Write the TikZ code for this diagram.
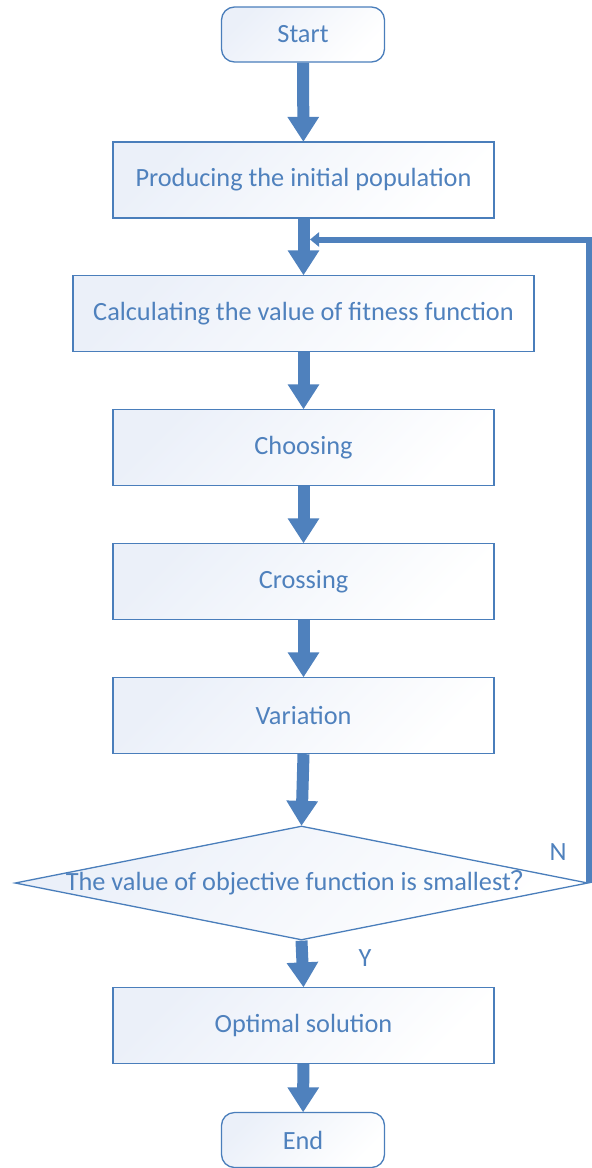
\documentclass[tikz,border=0pt]{standalone}
\usepackage{fontspec}
\setmainfont{Carlito}
\newfontfamily\cjk{Noto Sans CJK SC}
\usetikzlibrary{shapes.geometric,arrows.meta}
\definecolor{flowline}{HTML}{4A7EBB}
\definecolor{flowarrow}{HTML}{4F81BD}
\definecolor{flowtext}{HTML}{4F81BD}
\definecolor{flowfill}{HTML}{EBF0F9}
\tikzset{
  stepbox/.style={draw=flowline, line width=1.3bp, left color=flowfill, right color=white,
    shading angle=45, text=flowtext, font=\fontsize{26.3bp}{31bp}\selectfont,
    minimum height=76bp, inner sep=0pt},
  termbox/.style={stepbox, rounded corners=13bp, minimum width=163bp, minimum height=55bp},
  decision/.style={diamond, draw=flowline, line width=1.3bp, left color=flowfill, right color=white,
    shading angle=45, minimum width=573bp, minimum height=114bp, inner sep=0pt},
  flowlabel/.style={text=flowtext, font=\fontsize{26.3bp}{31bp}\selectfont, inner sep=0pt},
  blockarrow/.style={draw=flowarrow, line width=12bp,
    -{Triangle[width=30bp,length=25bp]}, shorten >=-0.5bp},
  backline/.style={draw=flowarrow, line width=6bp, -{Triangle[width=14bp,length=9bp]}}
}
\begin{document}
\begin{tikzpicture}[x=1bp,y=-1bp]
        \useasboundingbox (0,0) rectangle (592,1168);

        \node[termbox] (start) at (303,34.5) {Start};
        \node[stepbox, minimum width=381bp] (init) at (303.5,180) {Producing the initial population};
        \node[stepbox, minimum width=461bp] (fit) at (303.5,313.5) {Calculating the value of fitness function};
        \node[stepbox, minimum width=381bp] (choose) at (303.5,447.5) {Choosing};
        \node[stepbox, minimum width=381bp] (cross) at (303.5,581.5) {Crossing};
        \node[stepbox, minimum width=381bp] (vary) at (303.5,715.5) {Variation};
        \node[decision] (dia) at (301.5,883) {};
        \node[flowlabel] (diatext) at (dia) {The value of objective function is smallest{\cjk ？}};
        \node[stepbox, minimum width=381bp] (best) at (303.5,1025.5) {Optimal solution};
        \node[termbox] (end) at (303,1140) {End};

        % main flow
        \draw[blockarrow] (start) -- (init);
        \draw[blockarrow] (init) -- (fit);
        \draw[blockarrow] (fit) -- (choose);
        \draw[blockarrow] (choose) -- (cross);
        \draw[blockarrow] (cross) -- (vary);
        \draw[blockarrow] (vary.south) -- (dia.north);
        \draw[blockarrow] (dia.south) -- (best.north);
        \draw[blockarrow] (best) -- (end);

        % loop back
        \coordinate (loopin) at (310,239.5);
        \draw[backline] (dia.east) -- (dia.east |- loopin) -- (loopin);
        \node[flowlabel] (nlabel) at (558,852) {N};
        \node[flowlabel] (ylabel) at (365,958) {Y};

    \end{tikzpicture}
\end{document}
